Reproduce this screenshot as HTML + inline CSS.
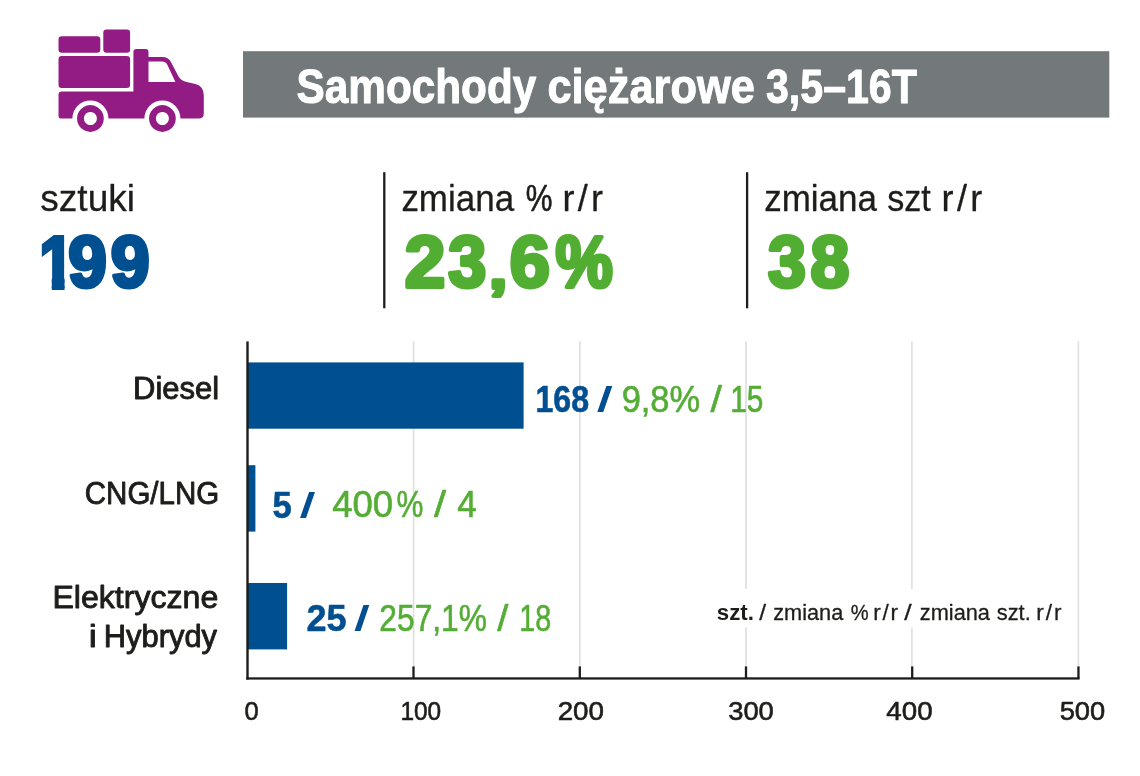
<!DOCTYPE html>
<html lang="pl"><head><meta charset="utf-8"><title>Samochody ciężarowe 3,5–16T</title>
<style>
html,body{margin:0;padding:0;background:#fff;}
body{width:1140px;height:776px;overflow:hidden;}
svg{display:block;font-family:"Liberation Sans",sans-serif;}
</style></head><body>
<svg width="1140" height="776" viewBox="0 0 1140 776">
<rect width="1140" height="776" fill="#ffffff"/>
<defs><pattern id="one" patternUnits="userSpaceOnUse" x="20" y="215" width="80" height="90"><rect x="10" y="10" width="45" height="52.6" fill="#004f91"/><rect x="31.8" y="10" width="12.75" height="70" fill="#004f91"/></pattern></defs>
<rect x="243" y="51.2" width="866.3" height="66.4" fill="#73787a"/>
<g id="truck" fill="#921c84">
<rect x="58.5" y="36.2" width="41.8" height="16.6" rx="3.2"/>
<rect x="103.3" y="29.6" width="26.8" height="23.2" rx="3.2"/>
<rect x="58.5" y="55.9" width="71.6" height="32.1" rx="3.2"/>
<path d="M61.7 91.4 H133.4 V52 Q133.4 49 136.4 49 H145.5 Q148.5 49 148.5 52 V57 H162.5 Q168.3 57 170.8 61.8 L178.4 76.3 Q180.3 80.3 185.6 81.7 L195.5 84 Q203.8 86.2 203.8 95.5 V113.6 Q203.8 118.6 198.8 118.6 H61.7 Q58.5 118.6 58.5 115.4 V94.6 Q58.5 91.4 61.7 91.4 Z M148.5 61.4 V81.9 H175.4 L167.2 64.6 Q165.7 61.4 162 61.4 Z" fill-rule="evenodd"/>
<circle cx="90.4" cy="118.5" r="18" fill="#ffffff"/>
<circle cx="162.4" cy="118.5" r="18" fill="#ffffff"/>
<path d="M90.4 105.1 a13.4 13.4 0 1 0 0.01 0 Z M90.4 112 a6.5 6.5 0 1 1 -0.01 0 Z" fill-rule="evenodd"/>
<path d="M162.4 105.1 a13.4 13.4 0 1 0 0.01 0 Z M162.4 112 a6.5 6.5 0 1 1 -0.01 0 Z" fill-rule="evenodd"/>
</g>

<rect x="383.15" y="172.2" width="2.3" height="136.1" fill="#1d1d1b"/>
<rect x="745.95" y="172.2" width="2.3" height="136.1" fill="#1d1d1b"/>
<rect x="412.80" y="341.4" width="1.6" height="325" fill="#dedede"/>
<rect x="579.00" y="341.4" width="1.6" height="325" fill="#dedede"/>
<rect x="745.20" y="341.4" width="1.6" height="325" fill="#dedede"/>
<rect x="911.10" y="341.4" width="1.6" height="325" fill="#dedede"/>
<rect x="1077.60" y="341.4" width="1.6" height="325" fill="#dedede"/>
<rect x="710" y="589" width="360" height="38.4" fill="#ffffff"/>
<rect x="247.3" y="362.4" width="276.3" height="66.3" fill="#004f91"/>
<rect x="247.3" y="465.2" width="8.1" height="66.4" fill="#004f91"/>
<rect x="247.3" y="583" width="39.8" height="66.4" fill="#004f91"/>
<rect x="246.3" y="341.4" width="2.4" height="338.2" fill="#1d1d1b"/>
<rect x="246.3" y="677.3" width="833.3" height="2.3" fill="#1d1d1b"/>
<rect x="412.35" y="666.4" width="2.3" height="12" fill="#1d1d1b"/>
<rect x="578.65" y="666.4" width="2.3" height="12" fill="#1d1d1b"/>
<rect x="744.85" y="666.4" width="2.3" height="12" fill="#1d1d1b"/>
<rect x="911.05" y="666.4" width="2.3" height="12" fill="#1d1d1b"/>
<rect x="1077.30" y="666.4" width="2.3" height="12" fill="#1d1d1b"/>
<text id="title" font-size="48.5"><tspan id="t1" x="296.55" y="102.8" font-size="48.5" font-weight="bold" fill="#ffffff" textLength="239.75" lengthAdjust="spacingAndGlyphs" stroke="#ffffff" stroke-width="1.0" stroke-linejoin="round">Samochody</tspan> <tspan id="t2" x="547.38" y="102.8" font-size="48.5" font-weight="bold" fill="#ffffff" textLength="207.48" lengthAdjust="spacingAndGlyphs" stroke="#ffffff" stroke-width="1.0" stroke-linejoin="round">ciężarowe</tspan> <tspan id="t3" x="766.00" y="102.8" font-size="48.5" font-weight="bold" fill="#ffffff" textLength="150.85" lengthAdjust="spacingAndGlyphs" stroke="#ffffff" stroke-width="1.0" stroke-linejoin="round">3,5–16T</tspan></text>
<text id="lab1" font-size="36"><tspan id="l1" x="40.36" y="210.7" font-size="36" font-weight="normal" fill="#1d1d1b" textLength="94.61" lengthAdjust="spacingAndGlyphs" stroke="#1d1d1b" stroke-width="0.3" stroke-linejoin="round">sztuki</tspan></text>
<text id="lab2" font-size="36"><tspan id="l2a" x="401.38" y="210.7" font-size="36" font-weight="normal" fill="#1d1d1b" textLength="112.72" lengthAdjust="spacingAndGlyphs" stroke="#1d1d1b" stroke-width="0.3" stroke-linejoin="round">zmiana</tspan> <tspan id="l2b" x="525.87" y="210.7" font-size="36" font-weight="normal" fill="#1d1d1b" textLength="26.66" lengthAdjust="spacingAndGlyphs" stroke="#1d1d1b" stroke-width="0.6" stroke-linejoin="round">%</tspan> <tspan id="l2c" x="562.42" y="210.7" font-size="36" font-weight="normal" fill="#1d1d1b" textLength="40.49" lengthAdjust="spacing" stroke="#1d1d1b" stroke-width="0.3" stroke-linejoin="round">r/r</tspan></text>
<text id="lab3" font-size="36"><tspan id="l3a" x="764.23" y="210.7" font-size="36" font-weight="normal" fill="#1d1d1b" textLength="112.72" lengthAdjust="spacingAndGlyphs" stroke="#1d1d1b" stroke-width="0.3" stroke-linejoin="round">zmiana</tspan> <tspan id="l3b" x="887.23" y="210.7" font-size="36" font-weight="normal" fill="#1d1d1b" textLength="43.61" lengthAdjust="spacingAndGlyphs" stroke="#1d1d1b" stroke-width="0.3" stroke-linejoin="round">szt</tspan> <tspan id="l3c" x="941.45" y="210.7" font-size="36" font-weight="normal" fill="#1d1d1b" textLength="40.92" lengthAdjust="spacing" stroke="#1d1d1b" stroke-width="0.3" stroke-linejoin="round">r/r</tspan></text>
<text id="big1" font-size="73.5"><tspan id="b1a" x="39.33" y="287.7" font-size="73.5" font-weight="bold" fill="url(#one)" textLength="34.78" lengthAdjust="spacingAndGlyphs" stroke="url(#one)" stroke-width="4" stroke-linejoin="miter" stroke-miterlimit="10">1</tspan><tspan id="b1b" x="68.34" y="287.3" font-size="72" font-weight="bold" fill="#004f91" textLength="38.53" lengthAdjust="spacingAndGlyphs" stroke="#004f91" stroke-width="4" stroke-linejoin="round">9</tspan><tspan id="b1c" x="110.84" y="287.3" font-size="72" font-weight="bold" fill="#004f91" textLength="38.88" lengthAdjust="spacingAndGlyphs" stroke="#004f91" stroke-width="4" stroke-linejoin="round">9</tspan></text>
<text id="big2" font-size="72"><tspan id="b2a" x="404.69" y="287.3" font-size="72" font-weight="bold" fill="#52ae32" textLength="40.54" lengthAdjust="spacingAndGlyphs" stroke="#52ae32" stroke-width="4" stroke-linejoin="round">2</tspan><tspan id="b2b" x="448.30" y="287.3" font-size="72" font-weight="bold" fill="#52ae32" textLength="38.05" lengthAdjust="spacingAndGlyphs" stroke="#52ae32" stroke-width="4" stroke-linejoin="round">3</tspan><tspan id="b2c" x="489.50" y="288.2" font-size="52" font-weight="bold" fill="#52ae32" textLength="17.33" lengthAdjust="spacingAndGlyphs" stroke="#52ae32" stroke-width="4" stroke-linejoin="round">,</tspan><tspan id="b2d" x="509.79" y="287.3" font-size="72" font-weight="bold" fill="#52ae32" textLength="40.16" lengthAdjust="spacingAndGlyphs" stroke="#52ae32" stroke-width="4" stroke-linejoin="round">6</tspan><tspan id="b2e" x="555.55" y="287.3" font-size="72" font-weight="bold" fill="#52ae32" textLength="57.25" lengthAdjust="spacingAndGlyphs" stroke="#52ae32" stroke-width="4" stroke-linejoin="round">%</tspan></text>
<text id="big3" font-size="72"><tspan id="b3a" x="768.10" y="287.3" font-size="72" font-weight="bold" fill="#52ae32" textLength="37.95" lengthAdjust="spacingAndGlyphs" stroke="#52ae32" stroke-width="4" stroke-linejoin="round">3</tspan><tspan id="b3b" x="810.39" y="287.3" font-size="72" font-weight="bold" fill="#52ae32" textLength="38.81" lengthAdjust="spacingAndGlyphs" stroke="#52ae32" stroke-width="4" stroke-linejoin="round">8</tspan></text>
<text id="cat1" font-size="31"><tspan id="c1" x="133.12" y="399.2" font-size="31" font-weight="normal" fill="#1d1d1b" textLength="86.09" lengthAdjust="spacingAndGlyphs" stroke="#1d1d1b" stroke-width="0.9" stroke-linejoin="round">Diesel</tspan></text>
<text id="cat2" font-size="31"><tspan id="c2" x="84.83" y="504.0" font-size="31" font-weight="normal" fill="#1d1d1b" textLength="134.30" lengthAdjust="spacingAndGlyphs" stroke="#1d1d1b" stroke-width="0.9" stroke-linejoin="round">CNG/LNG</tspan></text>
<text id="cat3" font-size="31"><tspan id="c3" x="52.45" y="608.1" font-size="31" font-weight="normal" fill="#1d1d1b" textLength="165.85" lengthAdjust="spacingAndGlyphs" stroke="#1d1d1b" stroke-width="0.9" stroke-linejoin="round">Elektryczne</tspan></text>
<text id="cat4" font-size="31"><tspan id="c4a" x="88.85" y="646.9" font-size="31" font-weight="normal" fill="#1d1d1b" textLength="8.09" lengthAdjust="spacingAndGlyphs" stroke="#1d1d1b" stroke-width="0.9" stroke-linejoin="round">i</tspan> <tspan id="c4b" x="103.78" y="646.9" font-size="31" font-weight="normal" fill="#1d1d1b" textLength="113.26" lengthAdjust="spacingAndGlyphs" stroke="#1d1d1b" stroke-width="0.9" stroke-linejoin="round">Hybrydy</tspan></text>
<text id="val1" font-size="37.5"><tspan id="v1a" x="535.47" y="411.8" font-size="37.5" font-weight="bold" fill="#004f91" textLength="53.62" lengthAdjust="spacingAndGlyphs" stroke="#004f91" stroke-width="0.6" stroke-linejoin="round">168</tspan> <tspan id="v1s" x="598.98" y="410.7" font-size="33.6" font-weight="normal" fill="#004f91" textLength="11.58" lengthAdjust="spacingAndGlyphs" stroke="#004f91" stroke-width="2.1" stroke-linejoin="miter" stroke-miterlimit="10">/</tspan> <tspan id="v1b" x="621.64" y="411.6" font-size="37.3" font-weight="normal" fill="#54ad35" textLength="78.50" lengthAdjust="spacingAndGlyphs" stroke="#54ad35" stroke-width="0.6" stroke-linejoin="round">9,8%</tspan> <tspan id="v1t" x="710.62" y="411.6" font-size="37.3" font-weight="normal" fill="#54ad35" textLength="11.44" lengthAdjust="spacingAndGlyphs" stroke="#54ad35" stroke-width="0.6" stroke-linejoin="round">/</tspan> <tspan id="v1c" x="730.15" y="411.6" font-size="37.3" font-weight="normal" fill="#54ad35" textLength="33.22" lengthAdjust="spacingAndGlyphs" stroke="#54ad35" stroke-width="0.6" stroke-linejoin="round">15</tspan></text>
<text id="val2" font-size="37.5"><tspan id="v2a" x="272.41" y="517.6" font-size="37.5" font-weight="bold" fill="#004f91" textLength="19.22" lengthAdjust="spacingAndGlyphs" stroke="#004f91" stroke-width="0.6" stroke-linejoin="round">5</tspan> <tspan id="v2s" x="301.85" y="516.5" font-size="33.6" font-weight="normal" fill="#004f91" textLength="11.54" lengthAdjust="spacingAndGlyphs" stroke="#004f91" stroke-width="2.1" stroke-linejoin="miter" stroke-miterlimit="10">/</tspan> <tspan id="v2b" x="332.13" y="517.4" font-size="37.3" font-weight="normal" fill="#54ad35" textLength="61.08" lengthAdjust="spacingAndGlyphs" stroke="#54ad35" stroke-width="0.6" stroke-linejoin="round">400</tspan><tspan id="v2p" x="396.44" y="517.4" font-size="37.3" font-weight="normal" fill="#54ad35" textLength="26.90" lengthAdjust="spacingAndGlyphs" stroke="#54ad35" stroke-width="0.6" stroke-linejoin="round">%</tspan> <tspan id="v2t" x="434.06" y="517.4" font-size="37.3" font-weight="normal" fill="#54ad35" textLength="12.10" lengthAdjust="spacingAndGlyphs" stroke="#54ad35" stroke-width="0.6" stroke-linejoin="round">/</tspan> <tspan id="v2c" x="457.14" y="517.4" font-size="37.3" font-weight="normal" fill="#54ad35" textLength="19.52" lengthAdjust="spacingAndGlyphs" stroke="#54ad35" stroke-width="0.6" stroke-linejoin="round">4</tspan></text>
<text id="val3" font-size="37.5"><tspan id="v3a" x="306.54" y="631.3" font-size="37.5" font-weight="bold" fill="#004f91" textLength="40.10" lengthAdjust="spacingAndGlyphs" stroke="#004f91" stroke-width="0.6" stroke-linejoin="round">25</tspan> <tspan id="v3s" x="356.39" y="630.2" font-size="33.6" font-weight="normal" fill="#004f91" textLength="11.40" lengthAdjust="spacingAndGlyphs" stroke="#004f91" stroke-width="2.1" stroke-linejoin="miter" stroke-miterlimit="10">/</tspan> <tspan id="v3b" x="379.37" y="631.1" font-size="37.3" font-weight="normal" fill="#54ad35" textLength="107.61" lengthAdjust="spacingAndGlyphs" stroke="#54ad35" stroke-width="0.6" stroke-linejoin="round">257,1%</tspan> <tspan id="v3t" x="497.24" y="631.1" font-size="37.3" font-weight="normal" fill="#54ad35" textLength="11.10" lengthAdjust="spacingAndGlyphs" stroke="#54ad35" stroke-width="0.6" stroke-linejoin="round">/</tspan> <tspan id="v3c" x="519.27" y="631.1" font-size="37.3" font-weight="normal" fill="#54ad35" textLength="31.88" lengthAdjust="spacingAndGlyphs" stroke="#54ad35" stroke-width="0.6" stroke-linejoin="round">18</tspan></text>
<text id="legend" font-size="22.5"><tspan id="g1" x="716.79" y="619.6" font-size="22.5" font-weight="bold" fill="#1d1d1b" textLength="37.17" lengthAdjust="spacingAndGlyphs">szt.</tspan> <tspan id="g2" x="759.18" y="619.6" font-size="22.5" font-weight="normal" fill="#1d1d1b" textLength="6.82" lengthAdjust="spacingAndGlyphs" stroke="#1d1d1b" stroke-width="0.3" stroke-linejoin="round">/</tspan> <tspan id="g3" x="773.24" y="619.6" font-size="22.5" font-weight="normal" fill="#1d1d1b" textLength="70.06" lengthAdjust="spacingAndGlyphs" stroke="#1d1d1b" stroke-width="0.3" stroke-linejoin="round">zmiana</tspan> <tspan id="g4" x="850.64" y="619.6" font-size="22.5" font-weight="normal" fill="#1d1d1b" textLength="17.88" lengthAdjust="spacingAndGlyphs" stroke="#1d1d1b" stroke-width="0.3" stroke-linejoin="round">%</tspan> <tspan id="g5" x="873.34" y="619.6" font-size="22.5" font-weight="normal" fill="#1d1d1b" textLength="24.57" lengthAdjust="spacing" stroke="#1d1d1b" stroke-width="0.3" stroke-linejoin="round">r/r</tspan> <tspan id="g6" x="904.35" y="619.6" font-size="22.5" font-weight="normal" fill="#1d1d1b" textLength="7.40" lengthAdjust="spacingAndGlyphs" stroke="#1d1d1b" stroke-width="0.3" stroke-linejoin="round">/</tspan> <tspan id="g7" x="919.80" y="619.6" font-size="22.5" font-weight="normal" fill="#1d1d1b" textLength="70.15" lengthAdjust="spacingAndGlyphs" stroke="#1d1d1b" stroke-width="0.3" stroke-linejoin="round">zmiana</tspan> <tspan id="g8" x="996.81" y="619.6" font-size="22.5" font-weight="normal" fill="#1d1d1b" textLength="33.92" lengthAdjust="spacingAndGlyphs" stroke="#1d1d1b" stroke-width="0.3" stroke-linejoin="round">szt.</tspan> <tspan id="g9" x="1036.27" y="619.6" font-size="22.5" font-weight="normal" fill="#1d1d1b" textLength="25.35" lengthAdjust="spacing" stroke="#1d1d1b" stroke-width="0.3" stroke-linejoin="round">r/r</tspan></text>
<text id="tick0" font-size="26.3"><tspan id="k0" x="244.40" y="719.7" font-size="26.3" font-weight="normal" fill="#1d1d1b" textLength="14.17" lengthAdjust="spacingAndGlyphs" stroke="#1d1d1b" stroke-width="0.6" stroke-linejoin="round">0</tspan></text>
<text id="tick1" font-size="26.3"><tspan id="k1" x="400.42" y="719.7" font-size="26.3" font-weight="normal" fill="#1d1d1b" textLength="40.70" lengthAdjust="spacingAndGlyphs" stroke="#1d1d1b" stroke-width="0.6" stroke-linejoin="round">100</tspan></text>
<text id="tick2" font-size="26.3"><tspan id="k2" x="557.67" y="719.7" font-size="26.3" font-weight="normal" fill="#1d1d1b" textLength="46.37" lengthAdjust="spacingAndGlyphs" stroke="#1d1d1b" stroke-width="0.6" stroke-linejoin="round">200</tspan></text>
<text id="tick3" font-size="26.3"><tspan id="k3" x="728.22" y="719.7" font-size="26.3" font-weight="normal" fill="#1d1d1b" textLength="45.55" lengthAdjust="spacingAndGlyphs" stroke="#1d1d1b" stroke-width="0.6" stroke-linejoin="round">300</tspan></text>
<text id="tick4" font-size="26.3"><tspan id="k4" x="886.35" y="719.7" font-size="26.3" font-weight="normal" fill="#1d1d1b" textLength="46.23" lengthAdjust="spacingAndGlyphs" stroke="#1d1d1b" stroke-width="0.6" stroke-linejoin="round">400</tspan></text>
<text id="tick5" font-size="26.3"><tspan id="k5" x="1059.67" y="719.7" font-size="26.3" font-weight="normal" fill="#1d1d1b" textLength="45.55" lengthAdjust="spacingAndGlyphs" stroke="#1d1d1b" stroke-width="0.6" stroke-linejoin="round">500</tspan></text>
</svg>
</body></html>
